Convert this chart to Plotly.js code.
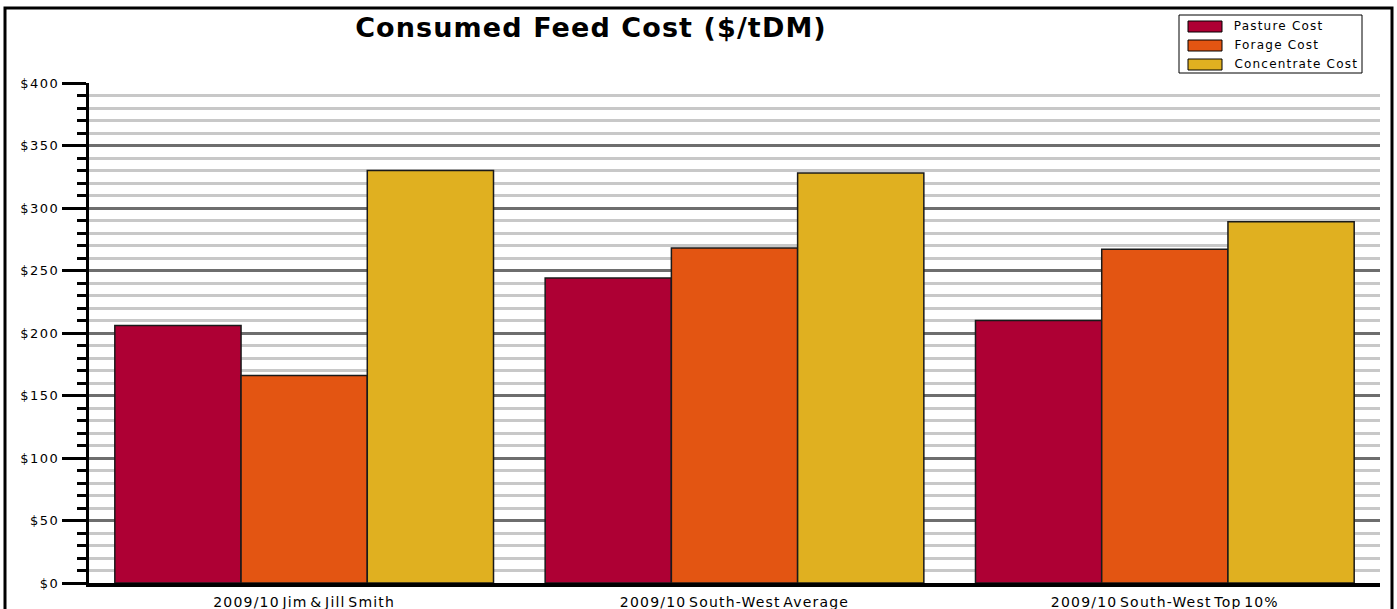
<!DOCTYPE html>
<html>
<head>
<meta charset="utf-8">
<script src="https://cdn.plot.ly/plotly-3.0.1.min.js"></script>
<style>
html,body{margin:0;padding:0;background:#fff;}
#chart{width:1397px;height:609px;}
#chart g.ytick text{letter-spacing:1.5px;}
#chart g.xtick text{letter-spacing:1.2px;word-spacing:-3px;}
#chart text.gtitle{letter-spacing:1.1px;}
#chart g.annotation text{letter-spacing:1.2px;}
</style>
</head>
<body>
<div id="chart"></div>
<script>
const categories = ["2009/10 Jim & Jill Smith", "2009/10 South-West Average", "2009/10 South-West Top 10%"];
const seriesNames = ["Pasture Cost", "Forage Cost", "Concentrate Cost"];
const pastureCost = [206, 244, 210];
const forageCost = [166, 268, 267];
const concentrateCost = [330, 328, 289];
const seriesColors = ["#AE0034", "#E35512", "#E0B020"];
const seriesValues = [pastureCost, forageCost, concentrateCost];

const W = 1397, H = 609;
const L = 89, R = 17, T = 83, B = 26;
const pw = W - L - R, ph = H - T - B;
const px = x => (x - L) / pw;
const py = y => (H - B - y) / ph;

const traces = seriesNames.map((n, i) => ({
  type: "bar",
  name: n,
  x: categories,
  y: seriesValues[i],
  marker: {color: seriesColors[i], line: {color: "#1a1a1a", width: 1.5}},
  hoverinfo: "x+y+name"
}));

const shapes = [];
const annotations = [];
// outer border
shapes.push({type: "rect", xref: "paper", yref: "paper", x0: px(5), x1: px(1392), y0: py(640), y1: py(8),
  line: {color: "#000", width: 3}, fillcolor: "rgba(0,0,0,0)", layer: "above"});
// legend box
shapes.push({type: "rect", xref: "paper", yref: "paper", x0: px(1179), x1: px(1362), y0: py(73), y1: py(15),
  line: {color: "#000", width: 1}, fillcolor: "#fff", layer: "above"});
seriesNames.forEach((n, i) => {
  const cy = 26.5 + i * 19;
  shapes.push({type: "rect", xref: "paper", yref: "paper", x0: px(1188), x1: px(1222), y0: py(cy + 5.5), y1: py(cy - 5.5),
    line: {color: "#000", width: 1}, fillcolor: seriesColors[i], layer: "above"});
  annotations.push({xref: "paper", yref: "paper", x: px(1232 + n.length * 0.6), y: py(cy - 1), xanchor: "left", yanchor: "middle",
    text: n, showarrow: false, font: {family: "DejaVu Sans", size: 12, color: "#000"}});
});

const layout = {
  width: W, height: H,
  margin: {l: L, r: R, t: T, b: B, pad: 0},
  paper_bgcolor: "#fff", plot_bgcolor: "#fff",
  showlegend: false,
  barmode: "group",
  bargap: 0.12,
  bargroupgap: 0,
  title: {text: "<b>Consumed Feed Cost ($/tDM)</b>", x: 591 / W, xref: "container", xanchor: "center",
    y: 1 - 28 / H, yref: "container", yanchor: "middle",
    font: {family: "DejaVu Sans", size: 27, color: "#000"}},
  xaxis: {
    type: "category",
    showline: true, linecolor: "#000", linewidth: 4,
    ticks: "", showgrid: false, zeroline: false,
    ticklabelstandoff: 3,
    tickfont: {family: "DejaVu Sans", size: 14, color: "#000"},
    fixedrange: true
  },
  yaxis: {
    range: [0, 400],
    dtick: 50,
    tickprefix: "$",
    showline: true, linecolor: "#000", linewidth: 3,
    ticks: "outside", ticklen: 24, tickwidth: 3, tickcolor: "#000",
    showgrid: true, gridcolor: "#6e6e6e", gridwidth: 3,
    zeroline: false,
    tickfont: {family: "DejaVu Sans", size: 13, color: "#000"},
    minor: {dtick: 10, ticks: "outside", ticklen: 9, tickwidth: 3, tickcolor: "#000",
      showgrid: true, gridcolor: "#c8c8c8", gridwidth: 3},
    fixedrange: true
  },
  shapes: shapes,
  annotations: annotations
};

Plotly.newPlot("chart", traces, layout, {displayModeBar: false});
</script>
</body>
</html>
